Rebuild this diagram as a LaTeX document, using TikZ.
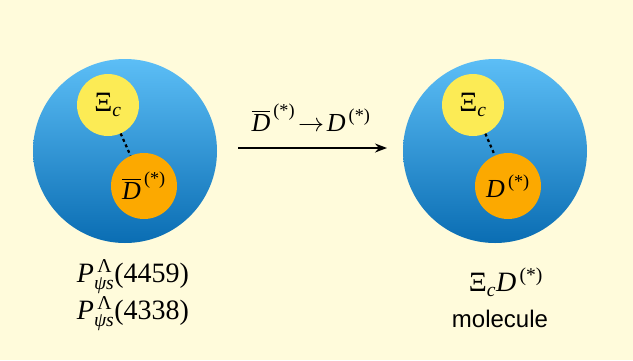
\RequirePackage{fix-cm}
\documentclass[tikz,border=0pt]{standalone}
\usepackage{amsmath}
\usepackage{fontspec}
\setmainfont{Liberation Serif}
\newfontfamily\molsans{Liberation Sans}
\usetikzlibrary{arrows.meta}
\definecolor{bgcol}{HTML}{FFFBDB}
\definecolor{bluetop}{HTML}{5CBEF6}
\definecolor{bluebot}{HTML}{0A6DB3}
\definecolor{yel}{HTML}{FCEB55}
\definecolor{ora}{HTML}{FCA900}
\newcommand{\Xic}{\text{Ξ}_{\text{\itshape c}}}
\newcommand{\Dstar}{\text{\itshape D}^{\,\text{(*)}}}
\newcommand{\Dbstar}{\overline{\text{\itshape D}}^{\,\text{(*)}}}
\newcommand{\Pst}[1]{$\text{\itshape P}^{\,\text{Λ}}_{\text{\itshape ψs}}\text{(#1)}$}
\begin{document}
\begin{tikzpicture}[x=1pt,y=-1pt,
  bigball/.style={circle,minimum size=184pt,inner sep=0pt,top color=bluetop,bottom color=bluebot,draw=none},
  yball/.style={circle,minimum size=62pt,inner sep=0pt,fill=yel,font=\fontsize{28}{30}\selectfont},
  oball/.style={circle,minimum size=66pt,inner sep=0pt,fill=ora,font=\fontsize{26}{28}\selectfont},
  bond/.style={line width=2.2pt,dash pattern=on 3pt off 3pt},
  lbl/.style={font=\fontsize{26}{28}\selectfont,inner sep=0pt}]
\fill[bgcol] (0,0) rectangle (633,360);
\useasboundingbox (0,0) rectangle (633,360);
% left
\node[bigball] (L) at (125,151) {};
\node[yball] (LX) at (108,105) {$\Xic$};
\node[oball] (LD) at (144,186) {$\Dbstar$};
\draw[bond] (LX) -- (LD);
% right
\node[bigball] (R) at (495,151) {};
\node[yball] (RX) at (473,105) {$\Xic$};
\node[oball] (RD) at (508,186) {$\Dstar$};
\draw[bond] (RX) -- (RD);
% arrow
\coordinate (A1) at (238,148);
\coordinate (A2) at (387,148);
\draw[line width=1.6pt,-{Stealth[length=12pt,width=9pt]}] (A1) -- (A2);
\node[lbl] (AL) at (311,118) {$\Dbstar\!\rightarrow\!\Dstar$};
% bottom left
\node[lbl,align=center,font=\fontsize{28}{37}\selectfont] (P) at (133,295) {\Pst{4459}\\\Pst{4338}};
% bottom right
\node[lbl,font=\fontsize{28}{30}\selectfont] (M1) at (506,282) {$\Xic\Dstar$};
\node[lbl,font=\molsans\fontsize{24}{26}\selectfont] (M2) at (500,319) {molecule};
\end{tikzpicture}
\end{document}
